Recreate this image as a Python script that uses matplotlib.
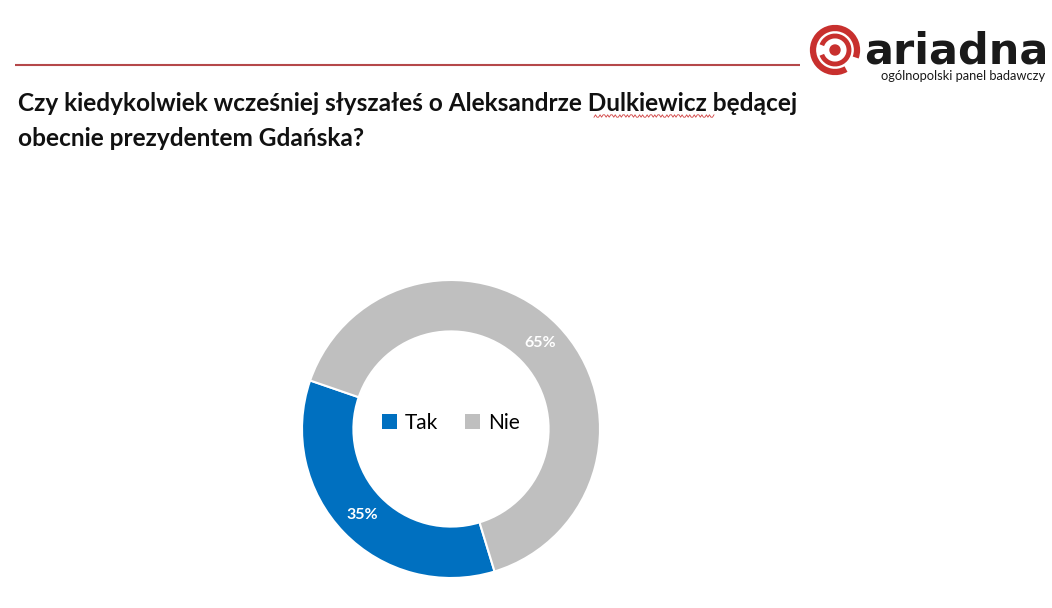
import matplotlib
matplotlib.use("Agg")
import matplotlib.pyplot as plt
from matplotlib.patches import Arc, Circle, Patch
import numpy as np

# dane
categories = ["Tak", "Nie"]
values = [35, 65]
colors = ["#0070C0", "#BFBFBF"]

title_lines = ["Czy kiedykolwiek wcześniej słyszałeś o Aleksandrze Dulkiewicz będącej",
               "obecnie prezydentem Gdańska?"]

W, H = 1052, 608
fig = plt.figure(figsize=(W / 100, H / 100), dpi=100)
fig.patch.set_facecolor("white")

# warstwa tła w pikselach
bg = fig.add_axes([0, 0, 1, 1])
bg.set_xlim(0, W)
bg.set_ylim(H, 0)
bg.axis("off")

# czerwona linia pod nagłówkiem
bg.plot([15, 800], [65, 65], color="#B5484A", linewidth=1.5, solid_capstyle="butt")

# tytuł
font = ["Lato", "DejaVu Sans"]
for i, line in enumerate(title_lines):
    bg.text(18, 111 + 35 * i, line, fontsize=17.6, fontweight="bold", family=font,
            color="#111111", va="baseline")

# podkreślenie pisowni pod "Dulkiewicz"
xs = np.linspace(594, 714, 80)
bg.plot(xs, 116 + 1.2 * np.sign(np.sin(xs * 1.6)), color="#d04040", linewidth=0.6)

# logo
red = "#C8302E"
bg.add_patch(Arc((835, 50), 44, 44, theta1=60, theta2=380, color=red, linewidth=4.5))
bg.add_patch(Arc((835, 50), 28, 28, theta1=200, theta2=520, color=red, linewidth=3.5))
bg.add_patch(Circle((835, 50), 5, color=red))
bg.text(864, 63, "ariadna", fontsize=31, fontweight="bold", family=["DejaVu Sans"],
        color="#1a1a1a", va="baseline")
bg.text(1045, 80, "ogólnopolski panel badawczy", fontsize=9.3, family=font,
        color="#1a1a1a", va="baseline", ha="right")

# wykres pierścieniowy
cx, cy, r = 451, 429, 149
ax = fig.add_axes([(cx - r) / W, (H - cy - r) / H, 2 * r / W, 2 * r / H])
wedges, _ = ax.pie(values, colors=colors, startangle=287, counterclock=False,
                   radius=1.0, wedgeprops=dict(width=0.345, edgecolor="white", linewidth=1.5))
ax.set_xlim(-1, 1)
ax.set_ylim(-1, 1)
ax.set_aspect("equal")
ax.axis("off")

# etykiety procentowe
start = 287
for v in values:
    mid = np.deg2rad(start - v * 3.6 / 2)
    ax.text(0.83 * np.cos(mid), 0.83 * np.sin(mid), f"{v}%", ha="center", va="center",
            fontsize=11.5, fontweight="bold", color="white", family=font)
    start -= v * 3.6

handles = [Patch(facecolor=c, label=l) for c, l in zip(colors, categories)]
ax.legend(handles=handles, loc="center", ncol=2, frameon=False,
          prop=dict(family=font, size=15), handlelength=0.7, handleheight=0.7,
          handletextpad=0.4, columnspacing=1.3, bbox_to_anchor=(0.5, 0.52))

fig.savefig("out.png", dpi=100, facecolor="white")
